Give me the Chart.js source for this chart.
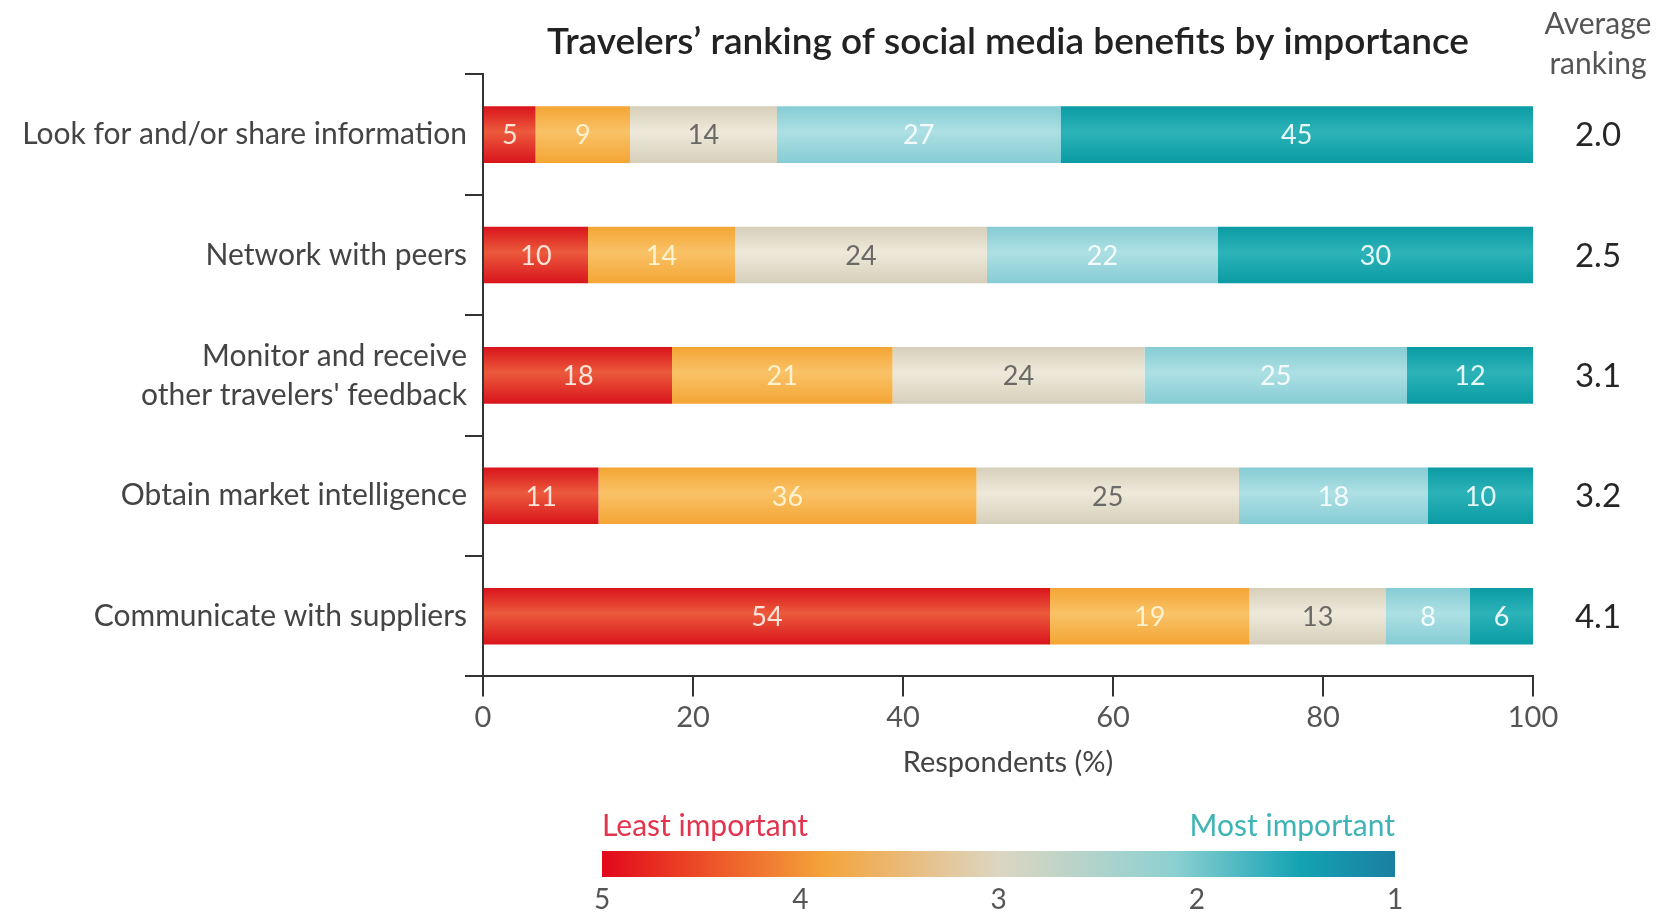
<!DOCTYPE html>
<html>
<head>
    <title>Travelers' ranking of social media benefits</title>
    <script src="https://cdn.jsdelivr.net/npm/chart.js"></script>
    <style>
        html, body { margin: 0; padding: 0; background: #fff; }
        #wrap { width: 1666px; height: 914px; }
    </style>
</head>
<body>
<div id="wrap"><canvas id="rankChart"></canvas></div>
<script type="text/javascript">
var categories = [
    'Look for and/or share information',
    'Network with peers',
    ['Monitor and receive', "other travelers' feedback"],
    'Obtain market intelligence',
    'Communicate with suppliers'
];
// share of respondents giving each rank (5 = least important ... 1 = most important)
var rank5 = [5, 10, 18, 11, 54];
var rank4 = [9, 14, 21, 36, 19];
var rank3 = [14, 24, 24, 25, 13];
var rank2 = [27, 22, 25, 18, 8];
var rank1 = [45, 30, 12, 10, 6];
var averageRanking = [2.0, 2.5, 3.1, 3.2, 4.1];
var scaleLabels = ['5', '4', '3', '2', '1'];

var FONT = 'Lato, "Open Sans", sans-serif';
var BAR_PCT = 0.47;

Chart.defaults.font.family = FONT;

// vertical shading so each bar looks slightly rounded
function shaded(edge, mid) {
    return function(ctx) {
        var chart = ctx.chart;
        var y = chart.scales.y;
        if (!chart.chartArea || !y || ctx.type !== 'data') return edge;
        var band = Math.abs(y.getPixelForValue(1) - y.getPixelForValue(0));
        var cy = y.getPixelForValue(ctx.dataIndex);
        var h = band * BAR_PCT / 2;
        var g = chart.ctx.createLinearGradient(0, cy - h, 0, cy + h);
        g.addColorStop(0, edge);
        g.addColorStop(0.45, mid);
        g.addColorStop(1, edge);
        return g;
    };
}

var valueLabels = {
    id: 'valueLabels',
    afterDatasetsDraw: function(chart) {
        var c = chart.ctx;
        c.save();
        c.font = '27px ' + FONT;
        c.textAlign = 'center';
        c.textBaseline = 'middle';
        chart.data.datasets.forEach(function(ds, di) {
            chart.getDatasetMeta(di).data.forEach(function(bar, i) {
                var p = bar.getProps(['x', 'y', 'base'], true);
                c.fillStyle = ds.labelColor;
                c.fillText(ds.data[i], (p.x + p.base) / 2, p.y + 1);
            });
        });
        c.restore();
    }
};

var averageColumn = {
    id: 'averageColumn',
    afterDraw: function(chart) {
        var c = chart.ctx;
        var y = chart.scales.y;
        var x = chart.chartArea.right + 65;
        c.save();
        c.textAlign = 'center';
        c.textBaseline = 'middle';
        c.fillStyle = '#555';
        c.font = '30px ' + FONT;
        c.fillText('Average', x, 24);
        c.fillText('ranking', x, 64);
        c.fillStyle = '#262626';
        c.font = '33px ' + FONT;
        averageRanking.forEach(function(v, i) {
            c.fillText(v.toFixed(1), x, y.getPixelForValue(i) + 1);
        });
        c.restore();
    }
};

var colourKey = {
    id: 'colourKey',
    afterDraw: function(chart) {
        var c = chart.ctx;
        var left = 602, right = 1395, top = 851, h = 26;
        c.save();
        var g = c.createLinearGradient(left, 0, right, 0);
        g.addColorStop(0, '#e2071b');
        g.addColorStop(0.12, '#ec4a26');
        g.addColorStop(0.28, '#f4a33a');
        g.addColorStop(0.5, '#dcd6c2');
        g.addColorStop(0.72, '#8dd0d2');
        g.addColorStop(0.88, '#14a3b3');
        g.addColorStop(1, '#1a7fa2');
        c.fillStyle = g;
        c.fillRect(left, top, right - left, h);

        c.font = '30px ' + FONT;
        c.textBaseline = 'middle';
        c.textAlign = 'left';
        c.fillStyle = '#e2344d';
        c.fillText('Least important', left, 826);
        c.textAlign = 'right';
        c.fillStyle = '#3fb4b6';
        c.fillText('Most important', right, 826);

        c.font = '28px ' + FONT;
        c.textAlign = 'center';
        c.fillStyle = '#555';
        scaleLabels.forEach(function(t, i) {
            c.fillText(t, left + (right - left) * i / (scaleLabels.length - 1), 900);
        });
        c.restore();
    }
};

function series(data, edge, mid, labelColor) {
    return {
        data: data,
        backgroundColor: shaded(edge, mid),
        borderWidth: 0,
        labelColor: labelColor,
        barPercentage: BAR_PCT,
        categoryPercentage: 1
    };
}

var ctx = document.getElementById('rankChart').getContext('2d');
var chart = new Chart(ctx, {
    type: 'bar',
    data: {
        labels: categories,
        datasets: [
            series(rank5, '#d9141c', '#ec5a3c', '#fde3d8'),
            series(rank4, '#f4a534', '#f9c267', '#fff2cf'),
            series(rank3, '#d5cfba', '#efe9db', '#6a6a66'),
            series(rank2, '#86ccd4', '#ade0e4', '#f4fbfc'),
            series(rank1, '#0b9ba4', '#2cb3b8', '#e6f7f7')
        ]
    },
    options: {
        indexAxis: 'y',
        responsive: true,
        maintainAspectRatio: false,
        animation: false,
        layout: { padding: { left: 0, right: 133, top: 0, bottom: 130 } },
        plugins: {
            legend: { display: false },
            tooltip: { enabled: false },
            title: {
                display: true,
                fullSize: false,
                text: 'Travelers\u2019 ranking of social media benefits by importance',
                color: '#222',
                font: { size: 37, weight: '600' },
                padding: { top: 20, bottom: 10 }
            }
        },
        scales: {
            x: {
                stacked: true,
                min: 0,
                max: 100,
                ticks: { stepSize: 20, color: '#555', font: { size: 29 }, padding: 4 },
                grid: { drawOnChartArea: false, tickLength: 20, color: '#333', lineWidth: 2 },
                border: { color: '#333', width: 2 },
                title: {
                    display: true,
                    text: 'Respondents (%)',
                    color: '#444',
                    font: { size: 29 },
                    padding: { top: 6, bottom: 4 }
                }
            },
            y: {
                stacked: true,
                afterFit: function(s) { s.width = 483; },
                ticks: { color: '#444', font: { size: 30, lineHeight: 1.3 }, padding: -2 },
                grid: { drawOnChartArea: false, offset: true, tickLength: 18, color: '#333', lineWidth: 2 },
                border: { color: '#333', width: 2 }
            }
        }
    },
    plugins: [valueLabels, averageColumn, colourKey]
});
</script>
</body>
</html>
